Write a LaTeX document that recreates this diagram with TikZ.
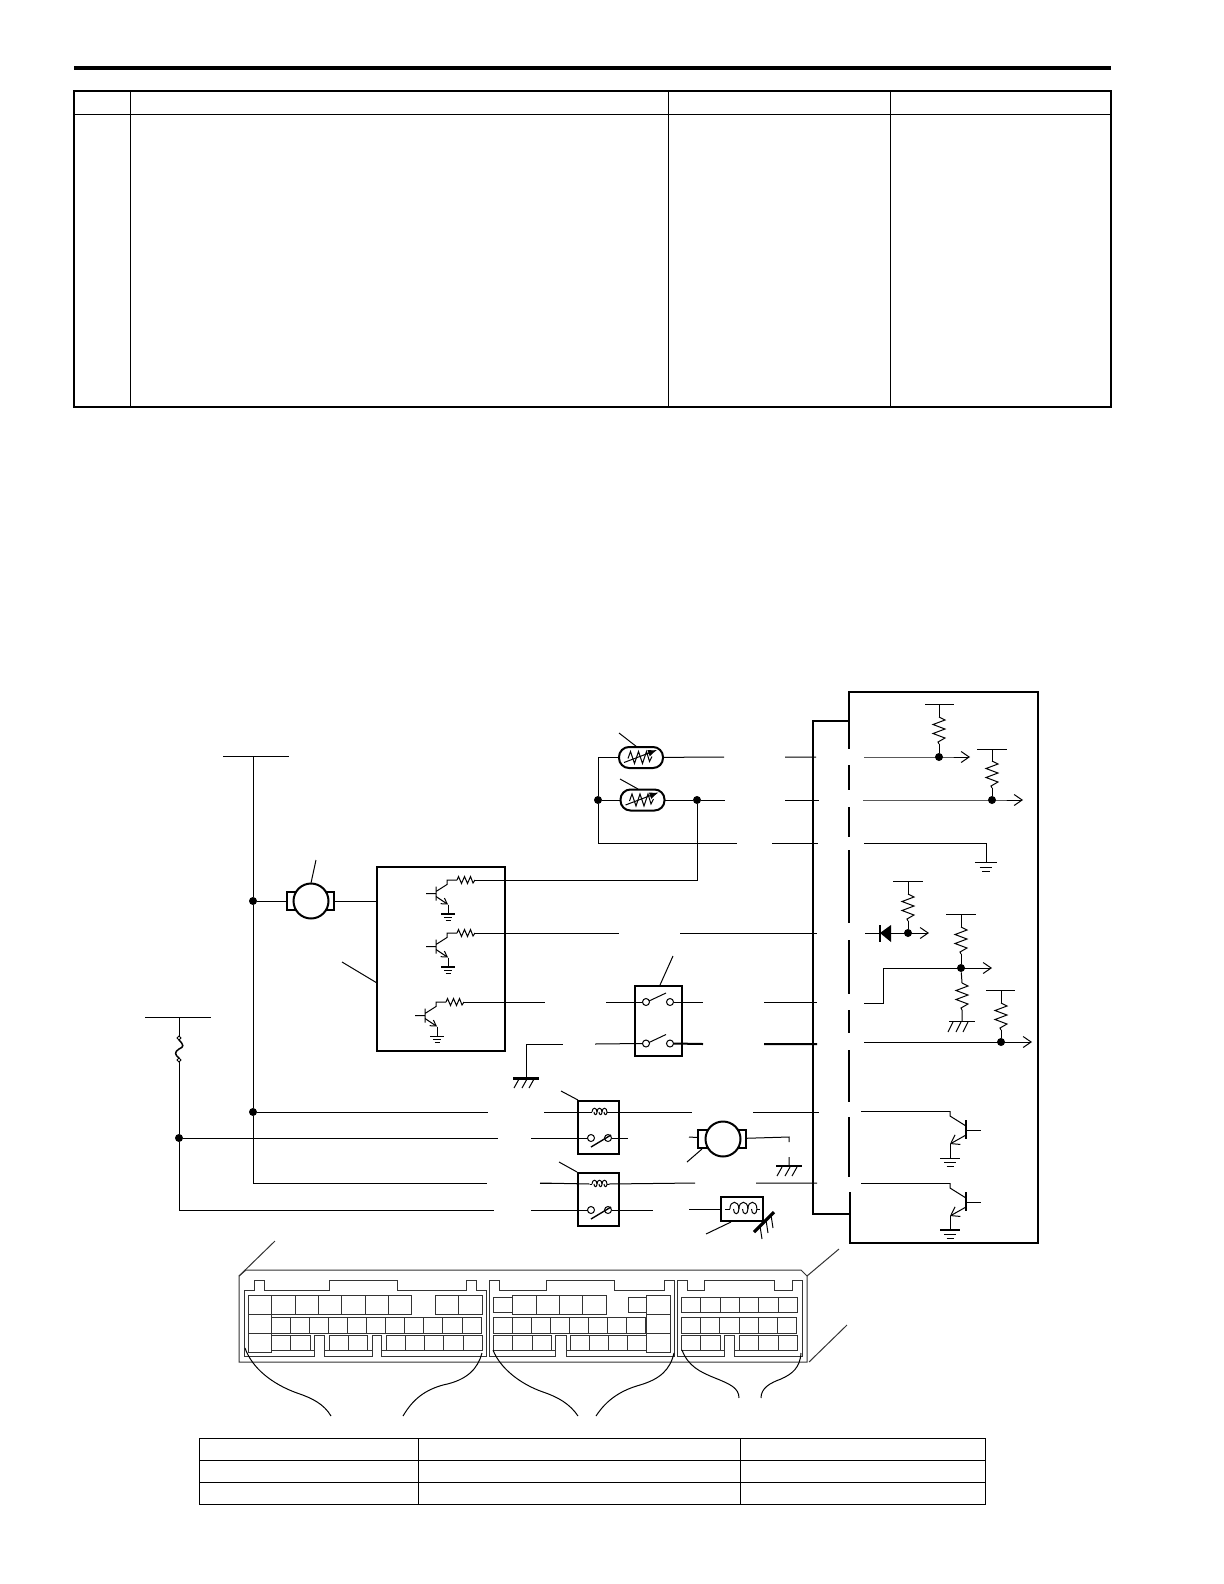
\documentclass[tikz,border=0pt]{standalone}
\usetikzlibrary{arrows.meta}
\tikzset{
wire/.style={line width=.5pt},
frame/.style={draw,line width=1pt,fill=white,inner sep=0pt,outer sep=0pt},
jdot/.style={circle,fill,inner sep=0pt,minimum size=4pt},
motor/.style={circle,draw,line width=1pt,fill=white,inner sep=0pt,outer sep=0pt,minimum size=17.5pt},
sensor/.style={frame,rounded corners=5pt,minimum width=22pt,minimum height=10.5pt},
relay/.style={frame,minimum width=20.5pt,minimum height=26.5pt},
outarrow/.style={-{Straight Barb[length=4pt,width=5.5pt]}},
emit/.style={-{Straight Barb[length=2.8pt,width=3.4pt]}},
connline/.style={line width=.5pt,black!80},
pics/gnd/.style={code={
\draw[line width=#1] (-7,0)--(7,0);
\draw[wire] (-4,3.3)--(4,3.3) (-2.5,6)--(2.5,6);
}},
pics/chas/.style={code={
\draw[line width=#1] (-13,0)--(13,0);
\foreach \x in {-7,1,8} \draw[wire] (\x,1)--(\x-5,10);
}},
pics/resv/.style={code={
\draw[wire] (0,0)--(6,3)--(-6,7.5)--(6,12)--(-6,16.5)--(6,21)--(-1,25)--(0,27);
}},
pics/resh/.style={code={
\draw[wire] (0,0)--(1.5,-3.5)--(4.5,3.5)--(7.5,-3.5)--(10.5,3.5)--(13.5,-3.5)--(16,3)--(18,0);
}},
pics/npnic/.style={code={
\draw[wire] (-10,0)--(0,0) (0,-7)--(0,7) (0,-2)--(11,-9)--(11,-13.5)--(21,-13.5);
\draw[wire,emit] (0,3)--(12,11);
\draw[wire] (12,11)--(12,20.5);
\pic at (21,-13.5) {resh};
\coordinate (-c) at (39,-13.5);
\coordinate (-e) at (12,20.5);
}},
pics/npnecm/.style={code={
\draw[wire] (0,0)--(15,0);
\draw[line width=.75pt] (0,-10)--(0,9);
\draw[wire] (0,-4)--(-16,-14)--(-16,-19);
\draw[wire,outarrow] (0,5)--(-16,14);
\draw[wire] (-16,14)--(-16,28);
\coordinate (-c) at (-16,-19);
\coordinate (-e) at (-16,28);
}},
pics/coil/.style={code={
\draw[wire] (-9.5,0)--(-7,0) (8,0)--(9.5,0);
\foreach \a in {-7,-2,3} \draw[wire] (\a,0) .. controls (\a,-5) and (\a+5,-5) .. (\a+5,0) .. controls (\a+5,3.5) and (\a+2,3.5) .. (\a+2,0);
}},
pics/relaycell/.style={code={
\pic[scale=1] at (0.5,-15.5) {coil};
\draw[wire] (-7.5,10.5) circle[radius=3.5] (9.5,10.5) circle[radius=3.5];
\draw[line width=.7pt] (-7.5,19.5)--(12.5,7.5);
\coordinate (-al) at (-9,-15.5);
\coordinate (-ar) at (10,-15.5);
\coordinate (-cl) at (-11,10.5);
\coordinate (-cr) at (13,10.5);
}},
pics/swcell/.style={code={
\draw[wire] (-12,0) circle[radius=3.5] (12,0) circle[radius=3.5];
\draw[wire] (-9,-1)--(8,-9);
\coordinate (-l) at (-15.5,0);
\coordinate (-r) at (15.5,0);
}},
pics/thermo/.style={code={
\draw[wire] (-13,1)--(-10.5,-6)--(-6.5,6)--(-2.5,-6)--(1.5,6)--(5.5,-6)--(8.5,4)--(11,-1);
\draw[wire,-{Latex[length=4.5pt,width=3.5pt]}] (-17,5)--(16,-7.5);
}},
pics/fuse/.style={code={
\draw[wire,fill=white] (0,-2)--(2,0)--(0,2)--(-2,0)--cycle;
\draw[line width=.75pt] (0,2) .. controls (5,7) and (5,9) .. (0,11) .. controls (-5,14) and (-4,17) .. (0,20);
\draw[wire,fill=white] (0,20)--(2,22)--(0,24)--(-2,22)--cycle;
}},
}
\begin{document}
\begin{tikzpicture}[x=.5pt,y=-.5pt,>=latex]
\useasboundingbox (0,0) rectangle (1224,1584);
\draw[line width=2.1pt] (74,68)--(1111,68);
\draw[line width=1pt] (74,91) rectangle (1111,407);
\draw[line width=.5pt] (74,115)--(1111,115);
\draw[line width=.5pt] (130.5,91)--(130.5,407) (668.5,91)--(668.5,407) (890,91)--(890,407);
\draw[line width=.5pt] (199,1438) rectangle (985,1504);
\draw[line width=.5pt] (199,1460)--(985,1460) (199,1482)--(985,1482) (418,1438)--(418,1504) (740,1438)--(740,1504);

\foreach \name/\pos in {busAt/{253,756},busAe/{487,1183},busAf/{540,1183},busBt/{179,1017},busBf/{179,1038},busBs/{179,1060},
wA1/{724,757},wA2/{785,757},wA3/{816,757},wB1/{725,800},wB2/{785,800},wB3/{819,800},wC1/{737,843},wC2/{772,843},wC3/{818,843},
wD1/{619,933},wD2/{680,933},wD3/{817,933},wE1/{545,1002},wE2/{606,1002},wE3/{703,1002},wE4/{764,1002},wE5/{817,1002},
wF1/{526,1044},wF2/{563,1044},wF3/{595,1044},wF4/{703,1044},wF5/{764,1044},wF6/{817,1044},
wG1/{488,1112},wG2/{544,1112},wG3/{692,1112},wG4/{753,1112},wG5/{819,1112},
wH1/{498,1138},wH2/{531,1138},wH3/{628,1138},wH4/{689,1137},wH5/{789,1137},wH6/{789,1142},wH7/{789,1157},
wI1/{695,1183},wI2/{756,1183},wI3/{817,1183},
wJ1/{494,1210},wJ2/{531,1210},wJ3/{653,1210},wJ4/{689,1209}}
\coordinate (\name) at (\pos);

\node[jdot] (dotM) at (253,901) {};
\node[jdot] (dotR) at (253,1112) {};
\node[jdot] (dotF) at (179,1138) {};
\node[jdot] (dotS) at (598,800) {};
\node[jdot] (dotT) at (697,800) {};

\node[frame,minimum width=23.5pt,minimum height=9pt] (casA) at (310.5,901) {};
\node[motor] (motA) at (311,901) {};
\node[frame,fill=none,minimum width=64pt,minimum height=92pt] (icbox) at (441,959) {};
\node[sensor] (snA) at (641,757.5) {};
\node[sensor] (snB) at (642.5,800) {};
\node[frame,minimum width=23.5pt,minimum height=35pt] (rlyK) at (658.5,1021) {};
\node[relay] (rlyA) at (598.5,1127.5) {};
\node[relay] (rlyB) at (598.5,1199.5) {};
\node[frame,minimum width=24pt,minimum height=9pt] (casB) at (722,1139) {};
\node[motor] (motB) at (723,1139) {};
\node[frame,minimum width=21pt,minimum height=12pt] (sol) at (742,1209) {};

\draw[wire] (223,756)--(289,756);
\draw[wire] (busAt)--(dotM)--(dotR)--(busAt|-busAe)--(busAe);
\draw[wire] (dotM)--(casA);
\draw[wire] (casA)--(icbox.west|-casA);
\draw[wire] (dotR)--(wG1) (wG2)--(wG2-|rlyA.west);
\draw[wire] (busAf)--(busAf-|rlyB.west);
\draw[wire] (145,1017)--(211,1017);
\draw[wire] (busBt)--(busBf) (busBs)--(dotF)--(busBt|-wJ1)--(wJ1);
\draw[wire] (dotF)--(wH1);
\pic at (busBf) {fuse};

\draw[wire] (snA.west)-|(dotS);
\draw[wire] (snB.west)--(dotS)--(dotS|-wC1)--(wC1);
\draw[wire] (snA)--(wA1) (wA2)--(wA3);
\draw[wire] (snB)--(dotT)--(wB1) (wB2)--(wB3);
\draw[wire] (wC2)--(wC3);
\pic at (snA) {thermo};
\pic at (snB) {thermo};
\draw[wire] (619,733)--(637,747) (620,779)--(638,789);

\pic (trA) at (436,893.5) {npnic};
\pic (trB) at (436,946.5) {npnic};
\pic (trC) at (425,1015.5) {npnic};
\pic at (trA-e) {gnd=1pt};
\pic at (trB-e) {gnd=1pt};
\pic at (trC-e) {gnd=.5pt};
\draw[wire] (trA-c)-|(dotT);
\draw[wire] (trB-c)--(wD1) (wD2)--(wD3);
\draw[wire] (trC-c)--(wE1);
\draw[wire] (316,860)--(311,883) (377,983)--(342,962) (660,985)--(673,956);

\pic (swA) at (658,1002) {swcell};
\pic (swB) at (658,1043.5) {swcell};
\draw[wire] (wE2)--(swA-l) (swA-r)--(wE3) (wE4)--(wE5);
\draw[wire] (wF3)--(swB-l);
\draw[line width=1pt] (swB-r)--(wF4) (wF5)--(wF6);
\draw[wire] (wF1|-1078,1078)--(wF1)--(wF2);
\pic at (526,1078) {chas=1.5pt};

\pic (clA) at (rlyA) {relaycell};
\pic (clB) at (rlyB) {relaycell};
\draw[wire] (wG2)--(clA-al) (clA-ar)--(wG3) (wG4)--(wG5);
\draw[wire] (wH2)--(clA-cl) (clA-cr)--(wH3);
\draw[wire] (busAf)--(clB-al) (clB-ar)--(wI1) (wI2)--(wI3);
\draw[wire] (wJ2)--(clB-cl) (clB-cr)--(wJ3);
\draw[wire] (561,1091)--(578,1100) (559,1162)--(577,1172);

\draw[wire] (wH4)--(casB);
\draw[wire] (casB)--(wH5)--(wH6) (wH7)--(789,1166);
\pic at (789,1166) {chas=1pt};
\draw[wire] (687,1162)--(702,1149);
\draw[wire] (wJ4)--(sol);
\pic[scale=1.8] at (742.5,1209) {coil};
\draw[line width=1.6pt] (754,1232)--(774,1212);
\draw[wire] (760,1226)--(762,1239) (766,1220)--(768,1233) (771,1215)--(773,1228);
\draw[wire] (731,1222)--(706,1234);

\draw[line width=1pt] (849,721)--(849,692)--(1038,692)--(1038,1243)--(850,1243)--(850,1192);
\draw[line width=1pt] (849,721)--(813,721)--(813,1214)--(850,1214);
\foreach \a/\b in {721/749,765/790,807/837,850/923,940/994,1010/1033,1050/1102,1117/1177}
\draw[line width=1pt] (849,\a)--(849,\b);

\node[jdot] (dotU) at (939,757) {};
\node[jdot] (dotV) at (992,800) {};
\node[jdot] (dotW) at (908,933) {};
\node[jdot] (dotX) at (961,968) {};
\node[jdot] (dotY) at (1001,1042) {};

\draw[wire,outarrow] (864,757)--(dotU.center)--(970,757);
\draw[wire,outarrow] (863,800)--(dotV.center)--(1023,800);
\draw[wire,outarrow] (865,933)--(dotW.center)--(929,933);
\draw[wire,outarrow] (864,1003)-|(883,968)--(dotX.center)--(992,968);
\draw[wire,outarrow] (864,1042)--(dotY.center)--(1032,1042);
\draw[wire] (864,843)-|(986,862);
\pic[scale=1.6] at (986,862) {gnd=.5pt};

\draw[wire] (925,704)--(954,704) (939,704)--(939,717);
\pic at (939,717) {resv};
\draw[wire] (939,744)--(dotU);
\draw[wire] (977,749)--(1007,749) (992,749)--(992,762);
\pic at (992,761) {resv};
\draw[wire] (992,788)--(dotV);
\draw[wire] (893,881)--(923,881) (908,881)--(908,895);
\pic at (908,894) {resv};
\draw[wire] (908,921)--(dotW);
\draw[wire] (946,914)--(976,914) (961,914)--(961,927);
\pic at (961,927) {resv};
\draw[wire] (961,954)--(dotX);
\draw[wire] (986,990)--(1015,990) (1001,990)--(1001,1003);
\pic at (1001,1003) {resv};
\draw[wire] (1001,1030)--(dotY);
\pic at (962,983) {resv};
\draw[wire] (dotX)--(962,983) (962,1010)--(962,1021);
\draw[wire] (949,1021)--(975,1021);
\foreach \x in {953,961,968} \draw[wire] (\x,1022)--(\x-5,1032);

\fill (880,933)--(891,925)--(891,942)--cycle;
\draw[line width=1.1pt] (880,925)--(880,942);

\pic (trD) at (966,1130) {npnecm};
\pic (trE) at (966,1202) {npnecm};
\draw[wire] (861,1111)-|(trD-c);
\draw[wire] (861,1183)-|(trE-c);
\pic[scale=1.4] at (trD-e) {gnd=.5pt};
\pic[scale=1.4] at (trE-e) {gnd=1pt};

\begin{scope}[connline]
\draw (239,1276)--(246,1270)--(801,1270)--(807,1276)--(807,1362)--(239,1362)--cycle;
\draw (239,1276)--(275,1241) (807,1276)--(839,1249) (809,1362)--(847,1325);
\draw (244,1356)--(244,1290)--(254,1290)--(254,1280)--(264,1280)--(264,1290)--(329,1290)--(329,1280)--(397,1280)--(397,1290)--(466,1290)--(466,1280)--(476,1280)--(476,1290)--(486,1290)--(486,1356)--(381,1356)--(381,1335)--(372,1335)--(372,1356)--(324,1356)--(324,1335)--(314,1335)--(314,1356)--cycle;
\draw (489,1356)--(489,1280)--(499,1280)--(499,1290)--(546,1290)--(546,1280)--(614,1280)--(614,1290)--(664,1290)--(664,1280)--(674,1280)--(674,1356)--(566,1356)--(566,1335)--(555,1335)--(555,1356)--cycle;
\draw (677,1356)--(677,1280)--(687,1280)--(687,1290)--(704,1290)--(704,1280)--(774,1280)--(774,1290)--(792,1290)--(792,1280)--(802,1280)--(802,1356)--(734,1356)--(734,1335)--(724,1335)--(724,1356)--cycle;

\foreach \a/\b in {271/295,295/318,318/341,341/365,365/388,388/411,435/458,458/482,512/536,536/559,559/582,582/606}
\draw (\a,1295) rectangle (\b,1314);
\foreach \a/\b in {493/512,628/646,681/700,700/720,720/739,739/758,758/778,778/797}
\draw (\a,1297) rectangle (\b,1312);
\foreach \y in {1295,1314,1333} {
\draw (248,\y) rectangle (271,\y+19);
\draw (646,\y) rectangle (670,\y+19);
}
\foreach \i in {0,...,10} \draw (271+19.1*\i,1317) rectangle (290.1+19.1*\i,1333);
\foreach \i in {0,...,7} \draw (493+19.1*\i,1317) rectangle (512.1+19.1*\i,1333);
\foreach \i in {0,...,5} \draw (681+19.33*\i,1317) rectangle (700.33+19.33*\i,1333);
\foreach \a/\b in {271/290,290/310,329/348,348/367,386/405,405/424,424/443,443/463,463/482,493/512,512/532,532/551,570/589,589/608,608/627,627/646,681/700,700/720,739/758,758/778,778/797}
\draw (\a,1335) rectangle (\b,1350);
\draw (310,1350)--(314,1350) (324,1350)--(329,1350) (367,1350)--(372,1350) (381,1350)--(386,1350) (551,1350)--(555,1350) (566,1350)--(570,1350) (720,1350)--(724,1350) (734,1350)--(739,1350);
\end{scope}

\draw[wire] (245,1348) .. controls (252,1368) and (272,1384) .. (297,1393) .. controls (312,1398) and (324,1404) .. (331,1416);
\draw[wire] (482,1353) .. controls (478,1368) and (468,1380) .. (443,1385) .. controls (425,1390) and (413,1399) .. (403,1416);
\draw[wire] (493,1350) .. controls (500,1368) and (520,1384) .. (543,1392) .. controls (558,1397) and (570,1404) .. (578,1416);
\draw[wire] (674,1353) .. controls (670,1370) and (660,1379) .. (640,1385) .. controls (622,1390) and (607,1399) .. (596,1416);
\draw[wire] (682,1350) .. controls (688,1366) and (700,1372) .. (715,1378) .. controls (730,1384) and (739,1388) .. (739,1398);
\draw[wire] (801,1353) .. controls (800,1368) and (792,1374) .. (781,1379) .. controls (770,1383) and (761,1388) .. (761,1398);
\end{tikzpicture}
\end{document}
